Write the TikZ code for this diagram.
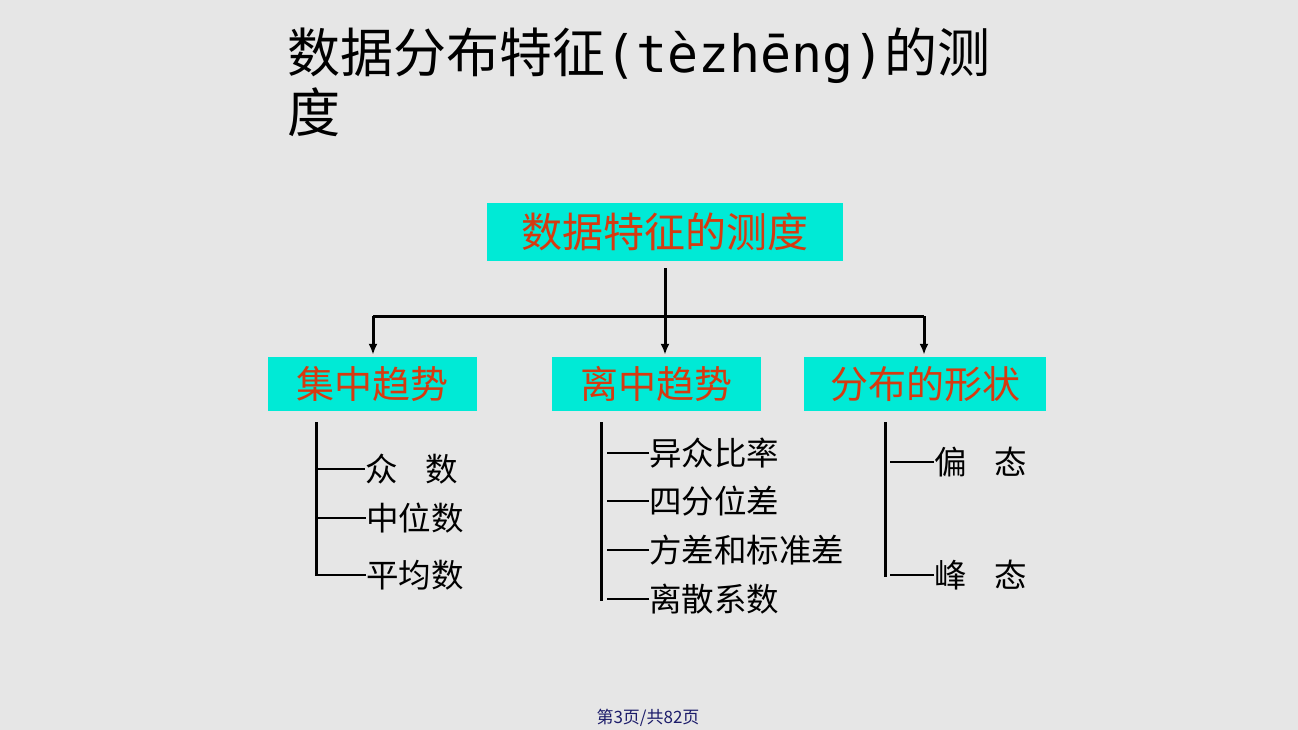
\documentclass[tikz,border=0pt]{standalone}
\usepackage{fontspec}
\setmainfont{Noto Sans CJK SC}
\newfontfamily\latinmono{DejaVu Sans Mono}
\usetikzlibrary{arrows.meta}
\definecolor{bg}{HTML}{E6E6E6}
\definecolor{boxcyan}{HTML}{00EAD6}
\definecolor{boxred}{HTML}{D63A10}
\definecolor{footblue}{HTML}{1C1C6A}
\tikzset{
  catbox/.style={fill=boxcyan, text=boxred, inner sep=0pt, font=\fontsize{38}{45}\selectfont},
  rootbox/.style={catbox, font=\fontsize{41}{49}\selectfont},
  item/.style={anchor=west, inner sep=0pt, text=black, font=\fontsize{32.5}{39}\selectfont},
  trunk/.style={line width=3pt, black},
  branch/.style={line width=2.8pt, black},
  arr/.style={line width=3pt, black, -{Latex[length=11pt,width=9pt]}},
}
\begin{document}
\begin{tikzpicture}[x=1pt,y=-1pt]
\path[fill=bg, use as bounding box] (0,0) rectangle (1298,730);

% title
\node[anchor=base west, inner sep=0pt, font=\fontsize{53}{60}\selectfont] (title1) at (287,73) {数据分布特征{\latinmono\fontsize{51.5}{60}\selectfont(tèzhēng)}的测};
\node[anchor=base west, inner sep=0pt, font=\fontsize{53}{60}\selectfont] (title2) at (287,133) {度};

% boxes
\node[rootbox, minimum width=356pt, minimum height=58pt] (root) at (665,232) {数据特征的测度};
\node[catbox, minimum width=209pt, minimum height=54pt] (b1) at (372.5,384) {集中趋势};
\node[catbox, minimum width=209pt, minimum height=54pt] (b2) at (656.5,384) {离中趋势};
\node[catbox, minimum width=242pt, minimum height=54pt] (b3) at (925,384) {分布的形状};

% tree connectors
\coordinate (hl) at (373,316);
\coordinate (hr) at (924,316);
\draw[arr, shorten <=7pt, shorten >=2pt] (root.south) -- (root.south |- b2.north);
\draw[trunk] (hl) -- (hr);
\draw[arr, shorten >=2pt] (hl) -- (hl |- b1.north);
\draw[arr, shorten >=2pt] (hr) -- (hr |- b3.north);

% left list
\node[item] (a1) at (365,469) {众\hspace{0.85em}数};
\node[item] (a2) at (366,518) {中位数};
\node[item] (a3) at (366,575) {平均数};
\coordinate (av1) at (316,422);
\coordinate (av2) at (316,576);
\draw[trunk] (av1) -- (av2);
\draw[branch] (av1 |- a1.west) -- (a1.west);
\draw[branch] (av1 |- a2.west) -- (a2.west);
\draw[branch] (av1 |- a3.west) -- (a3.west);

% middle list
\node[item] (m1) at (649,453) {异众比率};
\node[item] (m2) at (649,501) {四分位差};
\node[item] (m3) at (649,550) {方差和标准差};
\node[item] (m4) at (649,599) {离散系数};
\coordinate (mv1) at (601,422);
\coordinate (mv2) at (601,601);
\draw[trunk] (mv1) -- (mv2);
\draw[branch] (m1.west) -- ++(-42,0);
\draw[branch] (m2.west) -- ++(-42,0);
\draw[branch] (m3.west) -- ++(-42,0);
\draw[branch] (m4.west) -- ++(-42,0);

% right list
\node[item] (r1) at (934,462) {偏\hspace{0.85em}态};
\node[item] (r2) at (934,575) {峰\hspace{0.85em}态};
\coordinate (rv1) at (885,422);
\coordinate (rv2) at (885,577);
\draw[trunk] (rv1) -- (rv2);
\draw[branch] (r1.west) -- ++(-44,0);
\draw[branch] (r2.west) -- ++(-44,0);

% footer
\node[inner sep=0pt, text=footblue, font=\fontsize{17}{20}\selectfont] (foot) at (648,718) {第3页/共82页};
\end{tikzpicture}
\end{document}
